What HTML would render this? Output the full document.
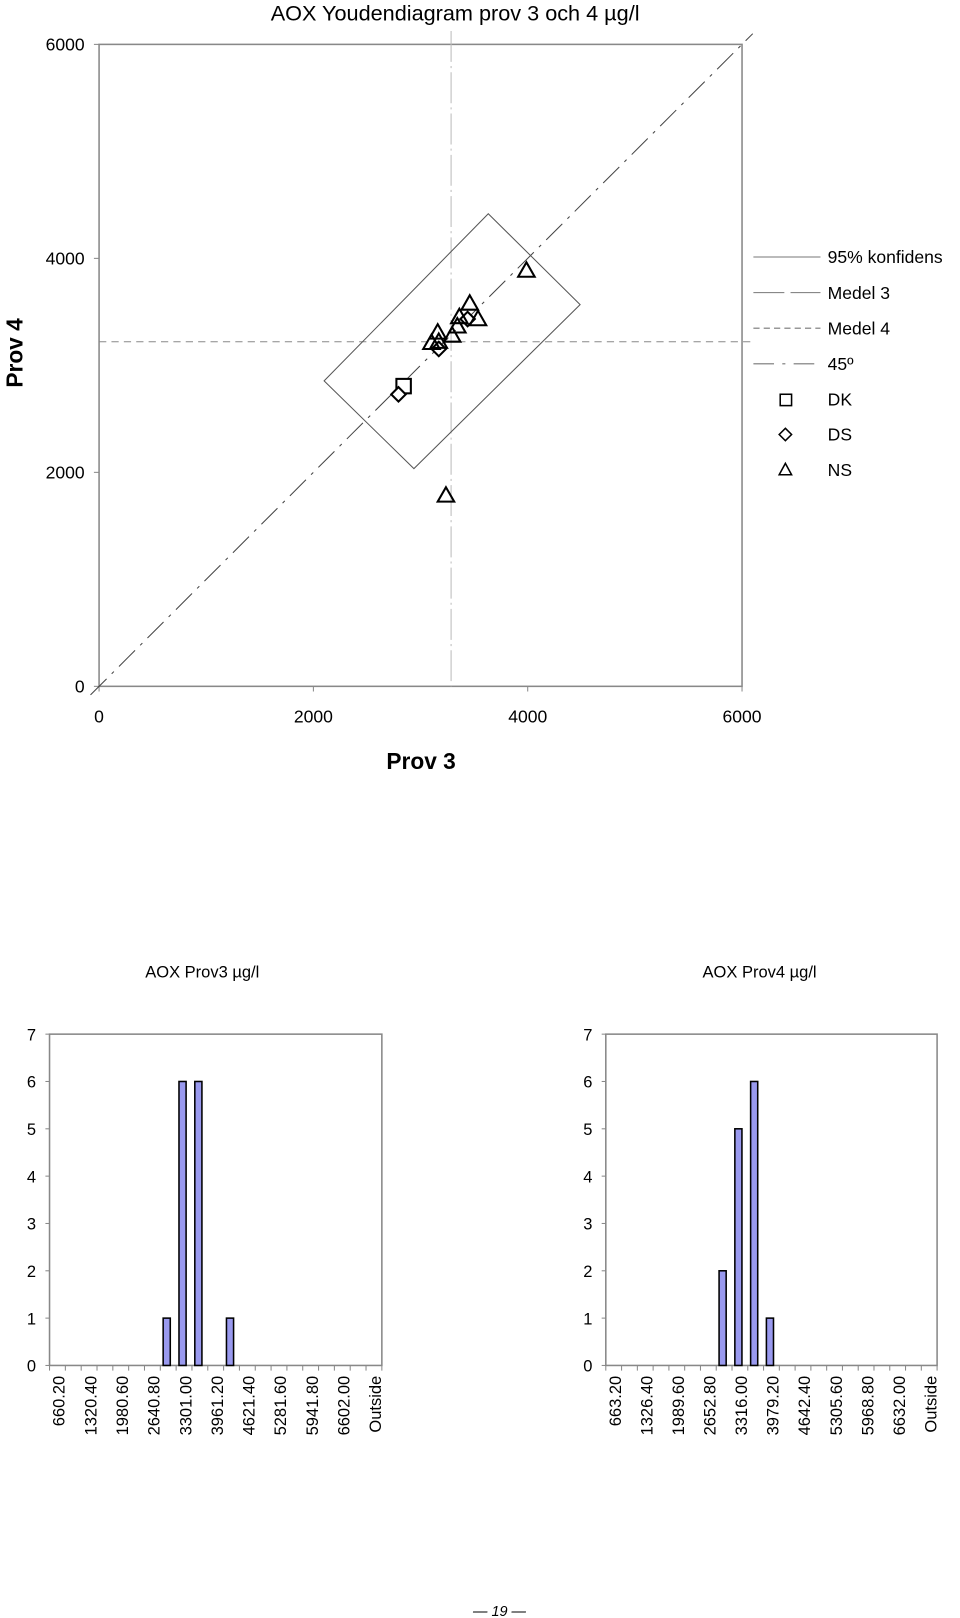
<!DOCTYPE html>
<html><head><meta charset="utf-8"><style>
html,body{margin:0;padding:0;background:#fff;}
svg{display:block;font-family:"Liberation Sans",Arial,sans-serif;}
</style></head><body>
<svg id="root" width="960" height="1618" viewBox="0 0 930.2 1567.7" preserveAspectRatio="none" xmlns="http://www.w3.org/2000/svg">
<g id="youden"></g>
<g id="h1"></g>
<g id="h2"></g>
<text x="484" y="1566" font-size="14" font-style="italic" text-anchor="middle">— 19 —</text>
</svg>
<script>
const NS="http://www.w3.org/2000/svg";
// Youden data
const triX=[3160,3102,3170,3295,3343,3362,3459,3536,3988,3237];
const triY=[3308,3211,3221,3279,3365,3452,3578,3433,3886,1784];
const diaX=[3170,3439,2794];
const diaY=[3153,3433,2729];
const sqX=[2842];
const sqY=[2806];
const medel3=3285;
const medel4=3221;
const rectX=[3632,4489,2938,2100];
const rectY=[4417,3568,2035,2855];
const axisTicks=[0,2000,4000,6000];
// Histogram data
const h1Labels=["660.20","1320.40","1980.60","2640.80","3301.00","3961.20","4621.40","5281.60","5941.80","6602.00","Outside"];
const h1Counts=[0,0,0,0,0,0,0,1,6,6,0,1,0,0,0,0,0,0,0,0,0];
const h2Labels=["663.20","1326.40","1989.60","2652.80","3316.00","3979.20","4642.40","5305.60","5968.80","6632.00","Outside"];
const h2Counts=[0,0,0,0,0,0,0,2,5,6,1,0,0,0,0,0,0,0,0,0,0];
const yTicks=[0,1,2,3,4,5,6,7];

function mk(parent,tag,attrs,name,text){
  const e=document.createElementNS(NS,tag);
  for(const k in attrs)e.setAttribute(k,attrs[k]);
  
  
  if(text!==undefined)e.textContent=text;
  parent.appendChild(e);return e;
}
// Youden
const Y=document.getElementById('youden');
const px0=96,px1=719,py0=665,py1=43;
const sx=v=>px0+(v/6000)*(px1-px0);
const sy=v=>py0-(v/6000)*(py0-py1);
mk(Y,'text',{x:441,y:20,'font-size':21,'text-anchor':'middle'},'chart-title','AOX Youdendiagram prov 3 och 4 µg/l');
mk(Y,'rect',{x:px0,y:py1,width:px1-px0,height:py0-py1,fill:'none',stroke:'#888','stroke-width':1.5},'plot-frame');
axisTicks.forEach(t=>{
  mk(Y,'line',{x1:px0-5,x2:px0,y1:sy(t),y2:sy(t),stroke:'#888'},'y-tick');
  mk(Y,'text',{x:82,y:sy(t)+6,'font-size':17,'text-anchor':'end'},'y-tick-label',String(t));
  mk(Y,'line',{x1:sx(t),x2:sx(t),y1:py0,y2:py0+5,stroke:'#888'},'x-tick');
  mk(Y,'text',{x:sx(t),y:700,'font-size':17,'text-anchor':'middle'},'x-tick-label',String(t));
});
mk(Y,'text',{x:408,y:745,'font-size':22,'font-weight':'bold','text-anchor':'middle'},'x-axis-title','Prov 3');
mk(Y,'text',{x:0,y:0,'font-size':22,'font-weight':'bold','text-anchor':'middle',transform:'translate(22,342) rotate(-90)'},'y-axis-title','Prov 4');
// 45 line
mk(Y,'line',{x1:sx(-80),y1:sy(-80),x2:sx(6100),y2:sy(6100),stroke:'#444','stroke-dasharray':'22 7 3 7'},'line-45');
mk(Y,'line',{x1:sx(medel3),y1:30,x2:sx(medel3),y2:py0,stroke:'#bbb','stroke-dasharray':'30 4 2 4'},'medel3-line');
mk(Y,'line',{x1:px0,y1:sy(medel4),x2:730,y2:sy(medel4),stroke:'#888','stroke-dasharray':'7 5'},'medel4-line');
mk(Y,'polygon',{points:rectX.map((x,i)=>sx(x)+','+sy(rectY[i])).join(' '),fill:'none',stroke:'#555','stroke-width':1},'confidence-rect');
sqX.forEach((x,i)=>mk(Y,'rect',{x:sx(x)-7,y:sy(sqY[i])-7,width:14,height:14,fill:'#fff',stroke:'#000','stroke-width':2},'point-dk'));
diaX.forEach((x,i)=>{const cx=sx(x),cy=sy(diaY[i]);mk(Y,'polygon',{points:`${cx},${cy-7} ${cx+7},${cy} ${cx},${cy+7} ${cx-7},${cy}`,fill:'#fff',stroke:'#000','stroke-width':2},'point-ds');});
triX.forEach((x,i)=>{const cx=sx(x),cy=sy(triY[i]);mk(Y,'polygon',{points:`${cx},${cy-8} ${cx+8},${cy+6} ${cx-8},${cy+6}`,fill:'none',stroke:'#000','stroke-width':2},'point-ns');});
// legend
const L=[['95% konfidens','none'],['Medel 3','30 6'],['Medel 4','6 4'],['45º','20 8 3 8']];
L.forEach((l,i)=>{const y=249+i*34.5;
  mk(Y,'line',{x1:730,x2:795,y1:y,y2:y,stroke:'#777','stroke-dasharray':l[1]},'legend-line');
  mk(Y,'text',{x:802,y:y+6,'font-size':17},'legend-label',l[0]);});
const ly=[387,421,455];
mk(Y,'rect',{x:756,y:ly[0]-5,width:11,height:11,fill:'none',stroke:'#000','stroke-width':1.5},'legend-dk-marker');
mk(Y,'polygon',{points:`761,${ly[1]-6} 767,${ly[1]} 761,${ly[1]+6} 755,${ly[1]}`,fill:'none',stroke:'#000','stroke-width':1.5},'legend-ds-marker');
mk(Y,'polygon',{points:`761,${ly[2]-6} 767,${ly[2]+5} 755,${ly[2]+5}`,fill:'none',stroke:'#000','stroke-width':1.5},'legend-ns-marker');
['DK','DS','NS'].forEach((t,i)=>mk(Y,'text',{x:802,y:ly[i]+6,'font-size':17},'legend-label',t));
// Histograms
function hist(id,x0,x1,title,titleX,labels,counts){
  const G=document.getElementById(id);
  const y0=1323,y1=1002;
  const n=counts.length, w=(x1-x0)/n;
  const hy=v=>y0-(v/7)*(y0-y1);
  mk(G,'text',{x:titleX,y:947,'font-size':16,'text-anchor':'middle'},'histogram-title',title);
  mk(G,'rect',{x:x0,y:y1,width:x1-x0,height:y0-y1,fill:'none',stroke:'#888','stroke-width':1.5},'plot-frame');
  yTicks.forEach(t=>{
    mk(G,'line',{x1:x0-4,x2:x0,y1:hy(t),y2:hy(t),stroke:'#888'},'y-tick');
    mk(G,'text',{x:x0-13,y:hy(t)+6,'font-size':16,'text-anchor':'end'},'y-tick-label',String(t));
  });
  for(let i=0;i<=n;i++)mk(G,'line',{x1:x0+i*w,x2:x0+i*w,y1:y0,y2:y0+5,stroke:'#888'},'x-tick');
  counts.forEach((c,i)=>{if(c>0)mk(G,'rect',{x:x0+i*w+w*0.18,y:hy(c),width:w*0.45,height:y0-hy(c),fill:'#9999ee',stroke:'#000','stroke-width':1.5},'bar');});
  labels.forEach((l,j)=>{const cx=x0+(2*j+0.5)*w+1;
    mk(G,'text',{x:0,y:0,'font-size':16,'text-anchor':'end',transform:`translate(${cx+6},1333) rotate(-90)`},'x-tick-label',l);});
}
hist('h1',48,370,'AOX Prov3 µg/l',196,h1Labels,h1Counts);
hist('h2',587,908,'AOX Prov4 µg/l',736,h2Labels,h2Counts);
</script>
</body></html>
